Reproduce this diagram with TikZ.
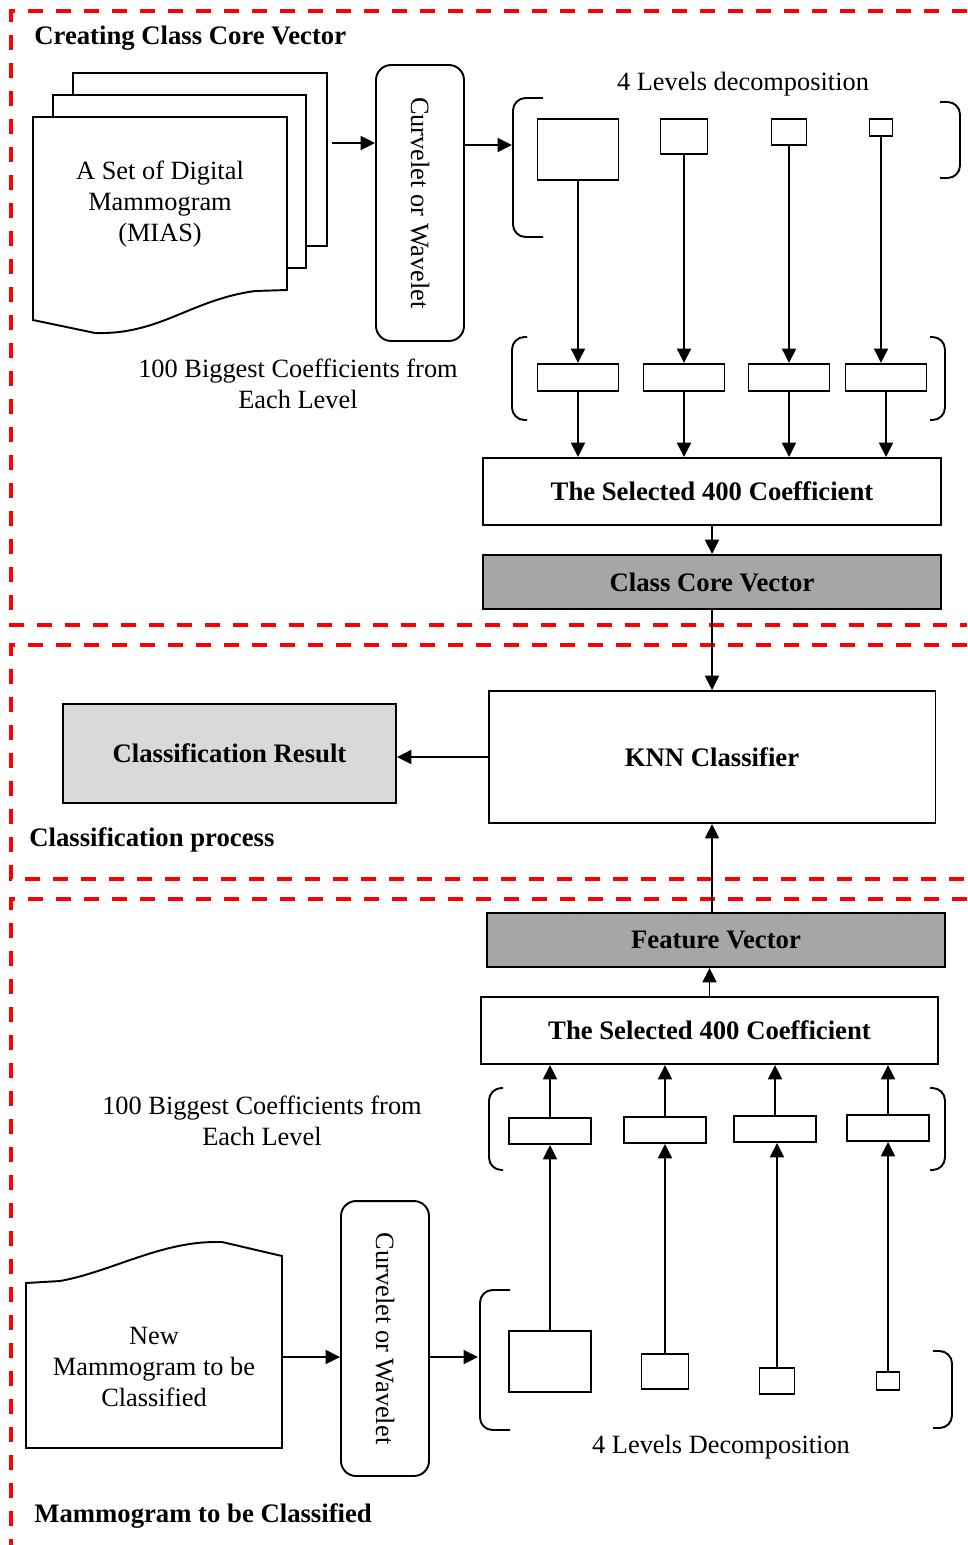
\documentclass[tikz,border=0pt]{standalone}
\usepackage{fontspec}
\setmainfont{Liberation Serif}
\usepackage{graphicx}
\usetikzlibrary{arrows.meta, positioning, calc}
\definecolor{framered}{RGB}{255, 0, 0}
\definecolor{coregray}{RGB}{166, 166, 166}
\definecolor{resgray}{RGB}{217, 217, 217}

\begin{document}
\begin{tikzpicture}[x=0.02cm, y=-0.02cm,
  font=\fontsize{15}{17.6}\selectfont,
  frame/.style={framered, line width=2.2pt, dash pattern=on 0.3cm off 0.26cm},
  box/.style={draw, line width=1.1pt, inner sep=0pt},
  lvl/.style={draw, line width=1.1pt, inner sep=0pt, anchor=north},
  bold/.style={font=\fontsize{15.2}{17.6}\selectfont\bfseries},
  title/.style={bold, inner sep=0pt, anchor=west},
  arr/.style={line width=1.1pt, -{Triangle[length=0.29cm, width=0.28cm]}},
  brk/.style={line width=1.1pt, rounded corners=0.25cm}]
  \useasboundingbox (0,0) rectangle (967,1545);

  % Creating class core vector
  \draw[frame] (967,11) -- (11,11) -- (11,625) -- (967,625);
  \node[title] (title1) at (34,38) {Creating Class Core Vector};
  \draw[line width=1.1pt] (73,95) -- (73,73) -- (327,73) -- (327,246) -- (306,246);
  \draw[line width=1.1pt] (53,117) -- (53,95) -- (306,95) -- (306,268) -- (287,268);
  \draw[line width=1.1pt] (287,117) -- (33,117) -- (33,320) -- (95,333)
    .. controls (160,335) and (190,300) .. (255,291) -- (287,290) -- cycle;
  \node[align=center] (mias) at (160,204) {A Set of Digital\\Mammogram\\(MIAS)};
  \coordinate (miasout) at (332,143);
  \node[box, rounded corners=0.3cm, minimum width=1.76cm, minimum height=5.52cm]
    (curv1) at (420,203) {\rotatebox{-90}{Curvelet or Wavelet}};
  \draw[arr] (miasout) -- (miasout -| curv1.west);
  \coordinate (dec1in) at (512,145);
  \draw[arr] (curv1.east |- dec1in) -- (dec1in);

  \draw[brk] (543,98) -- (513,98) -- (513,237) -- (543,237);
  \draw[brk] (940,102) -- (960,102) -- (960,178) -- (940,178);
  \node (lev1) at (743,84) {4 Levels decomposition};
  \node[lvl, minimum width=1.62cm, minimum height=1.22cm] (d1) at (578,118) {};
  \node[lvl, minimum width=0.94cm, minimum height=0.70cm] (d2) at (684,118) {};
  \node[lvl, minimum width=0.70cm, minimum height=0.52cm] (d3) at (789,118) {};
  \node[lvl, minimum width=0.46cm, minimum height=0.34cm] (d4) at (881,118) {};

  \draw[brk] (527,337) -- (512,337) -- (512,420) -- (527,420);
  \draw[brk] (930,337) -- (945,337) -- (945,420) -- (930,420);
  \node[lvl, minimum width=1.62cm, minimum height=0.54cm] (c1) at (578,363) {};
  \node[lvl, minimum width=1.62cm, minimum height=0.54cm] (c2) at (684,363) {};
  \node[lvl, minimum width=1.62cm, minimum height=0.54cm] (c3) at (789,363) {};
  \node[lvl, minimum width=1.62cm, minimum height=0.54cm] (c4) at (886,363) {};
  \draw[arr] (d1.south) -- (c1.north);
  \draw[arr] (d2.south) -- (c2.north);
  \draw[arr] (d3.south) -- (c3.north);
  \draw[arr] (d4.south) -- (d4.south |- c4.north);
  \node[align=center] (big1) at (298,384) {100 Biggest Coefficients from\\Each Level};

  \node[box, bold, minimum width=9.16cm, minimum height=1.34cm] (sel1) at (712,491.5) {The Selected 400 Coefficient};
  \draw[arr] (c1.south) -- (c1.south |- sel1.north);
  \draw[arr] (c2.south) -- (c2.south |- sel1.north);
  \draw[arr] (c3.south) -- (c3.south |- sel1.north);
  \draw[arr] (c4.south) -- (c4.south |- sel1.north);
  \node[box, bold, fill=coregray, minimum width=9.16cm, minimum height=1.08cm] (core) at (712,582) {Class Core Vector};
  \draw[arr] (sel1.south) -- (core.north);

  % Classification process
  \draw[frame] (967,645) -- (11,645) -- (11,879) -- (967,879);
  \node[box, bold, minimum width=8.94cm, minimum height=2.64cm] (knn) at (712,757) {KNN Classifier};
  \node[box, bold, fill=resgray, minimum width=6.66cm, minimum height=1.98cm] (res) at (229.5,753.5) {Classification Result};
  \draw[arr] (core.south) -- (knn.north);
  \draw[arr] (knn.west) -- (knn.west -| res.east);
  \node[title] (title2) at (29,840) {Classification process};

  % Mammogram to be classified
  \draw[frame] (967,899) -- (11,899) -- (11,1545);
  \node[box, bold, fill=coregray, minimum width=9.16cm, minimum height=1.08cm] (feat) at (716,940) {Feature Vector};
  \draw[arr] (knn.south |- feat.north) -- (knn.south);
  \node[box, bold, minimum width=9.14cm, minimum height=1.34cm] (sel2) at (709.5,1030.5) {The Selected 400 Coefficient};
  \draw[arr] (sel2.north) -- (sel2.north |- feat.south);

  \draw[brk] (503,1088) -- (489,1088) -- (489,1170) -- (503,1170);
  \draw[brk] (930,1088) -- (945,1088) -- (945,1170) -- (930,1170);
  \node[lvl, minimum width=1.64cm, minimum height=0.52cm] (cb1) at (550,1117) {};
  \node[lvl, minimum width=1.64cm, minimum height=0.52cm] (cb2) at (665,1116) {};
  \node[lvl, minimum width=1.64cm, minimum height=0.52cm] (cb3) at (775,1115) {};
  \node[lvl, minimum width=1.64cm, minimum height=0.52cm] (cb4) at (888,1114) {};
  \draw[arr] (cb1.north) -- (cb1.north |- sel2.south);
  \draw[arr] (cb2.north) -- (cb2.north |- sel2.south);
  \draw[arr] (cb3.north) -- (cb3.north |- sel2.south);
  \draw[arr] (cb4.north) -- (cb4.north |- sel2.south);
  \node[align=center] (big2) at (262,1121) {100 Biggest Coefficients from\\Each Level};

  \draw[brk] (510,1290) -- (480,1290) -- (480,1430) -- (510,1430);
  \draw[brk] (933,1351) -- (952,1351) -- (952,1428) -- (933,1428);
  \node[lvl, minimum width=1.64cm, minimum height=1.22cm] (db1) at (550,1330) {};
  \node[lvl, minimum width=0.94cm, minimum height=0.70cm] (db2) at (665,1353) {};
  \node[lvl, minimum width=0.70cm, minimum height=0.52cm] (db3) at (777,1367) {};
  \node[lvl, minimum width=0.46cm, minimum height=0.36cm] (db4) at (888,1371) {};
  \draw[arr] (db1.north) -- (cb1.south);
  \draw[arr] (db2.north) -- (db2.north |- cb2.south);
  \draw[arr] (db3.north) -- (db3.north |- cb3.south);
  \draw[arr] (db4.north) -- (db4.north |- cb4.south);
  \node (lev2) at (721,1447) {4 Levels Decomposition};

  \draw[line width=1.1pt] (26,1448) -- (26,1283) -- (60,1281)
    .. controls (110,1272) and (160,1242) .. (215,1242) -- (222,1242) -- (282,1256) -- (282,1448) -- cycle;
  \node[align=center] (newdoc) at (154,1367) {New\\Mammogram to be\\Classified};
  \coordinate (newout) at (282,1357);
  \node[box, rounded corners=0.3cm, minimum width=1.76cm, minimum height=5.5cm]
    (curv2) at (385,1338.5) {\rotatebox{-90}{Curvelet or Wavelet}};
  \draw[arr] (newout) -- (newout -| curv2.west);
  \coordinate (dec2in) at (478,1357);
  \draw[arr] (curv2.east |- dec2in) -- (dec2in);
  \node[title] (title3) at (34,1516) {Mammogram to be Classified};
\end{tikzpicture}
\end{document}
